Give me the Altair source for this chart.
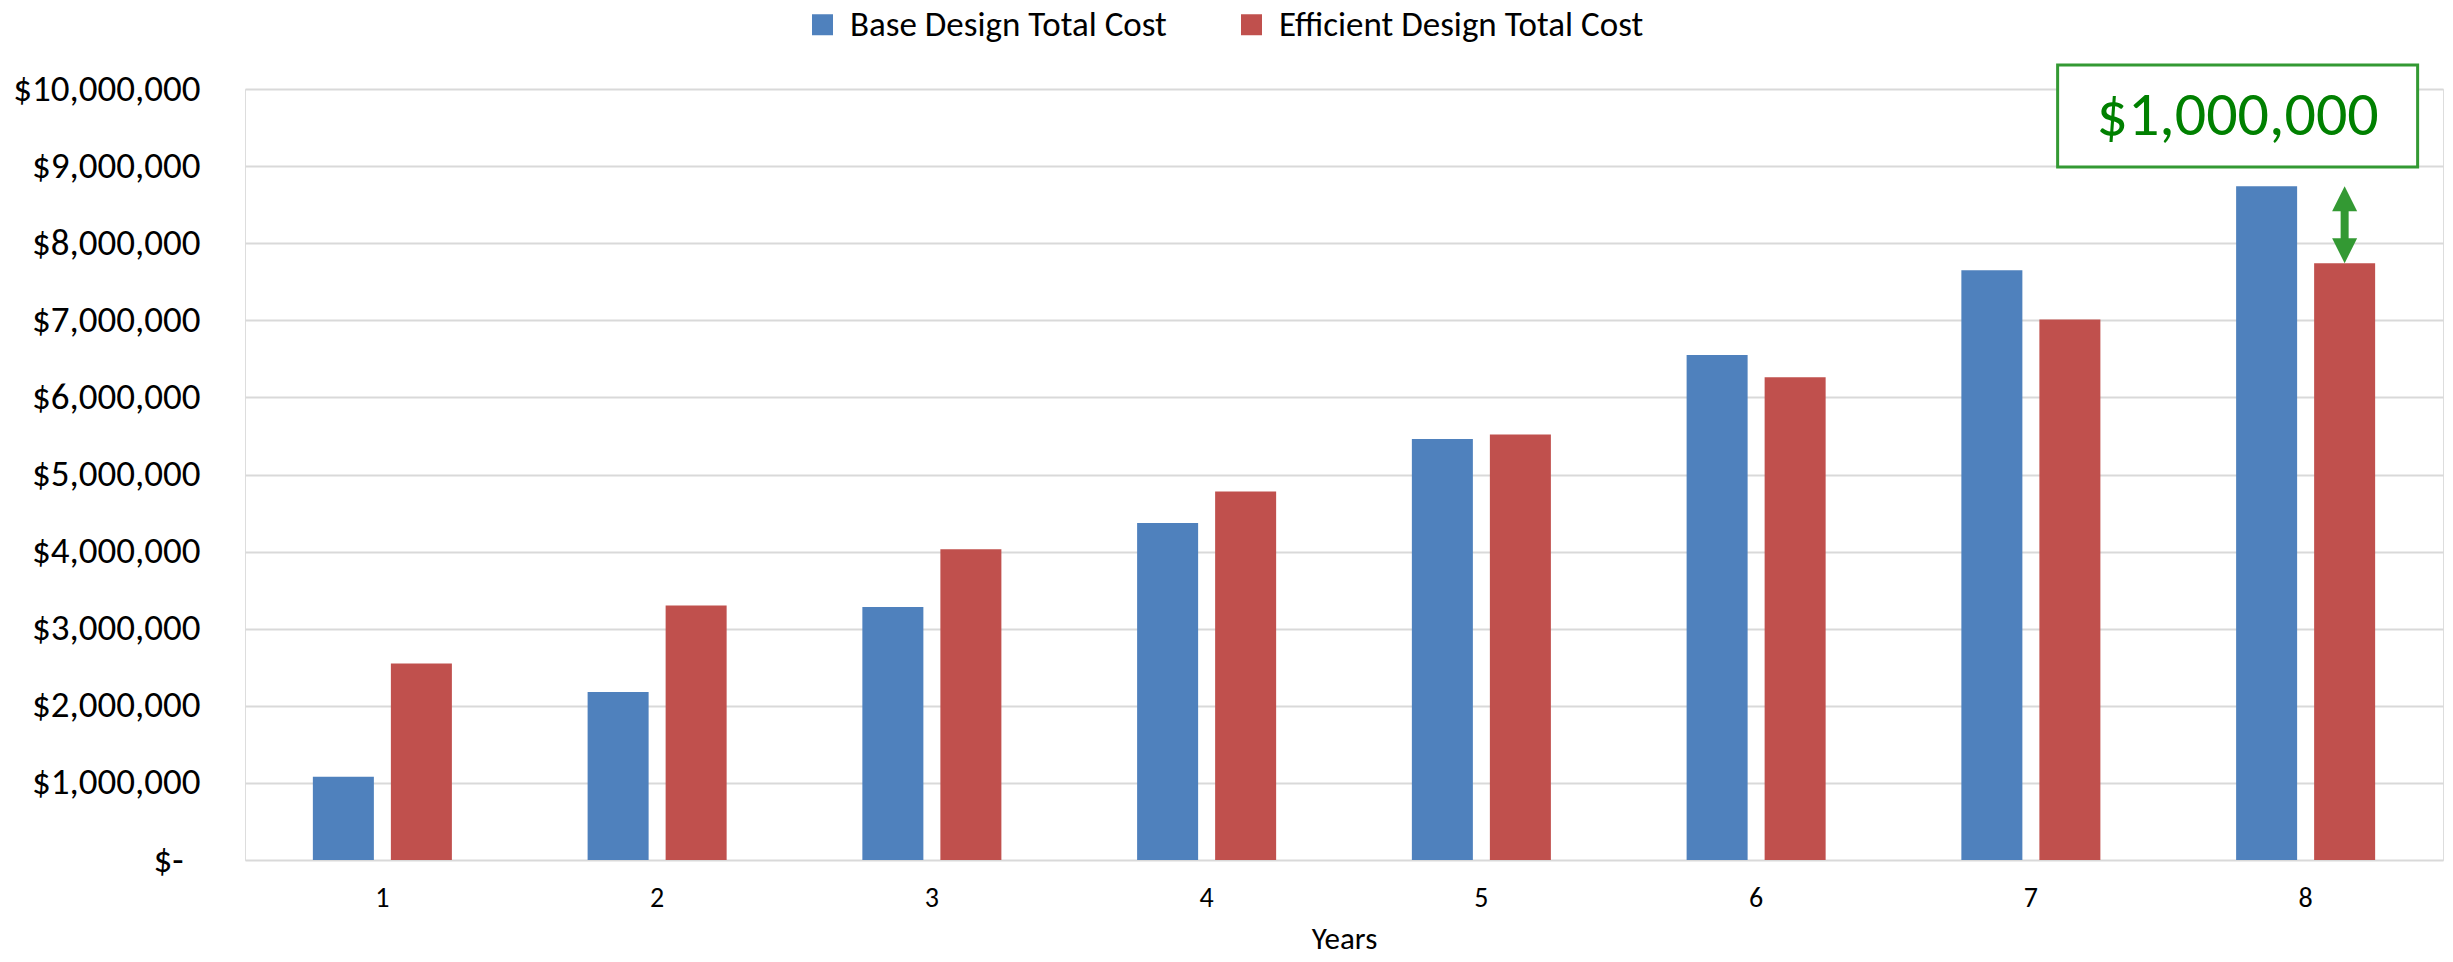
import altair as alt
import pandas as pd

years = ["1", "2", "3", "4", "5", "6", "7", "8"]
series = ["Base Design Total Cost", "Efficient Design Total Cost"]
base_cost = [1080000, 2180000, 3280000, 4370000, 5460000, 6550000, 7650000, 8740000]
efficient_cost = [2550000, 3300000, 4030000, 4780000, 5520000, 6260000, 7010000, 7740000]
colors = ["#4F81BD", "#C0504D"]
y_ticks = [0, 1000000, 2000000, 3000000, 4000000, 5000000, 6000000, 7000000, 8000000, 9000000, 10000000]

annotation_text = "$1,000,000"
annotation_year = "8"
annotation_value = 9650000

FONT = "Calibri, Carlito, Lato, sans-serif"

rows = []
for i, yr in enumerate(years):
    rows.append({"Year": yr, "Series": series[0], "Cost": base_cost[i]})
    rows.append({"Year": yr, "Series": series[1], "Cost": efficient_cost[i]})
df = pd.DataFrame(rows)

arrow_df = pd.DataFrame([{
    "Year": annotation_year,
    "Series": series[1],
    "top": base_cost[-1],
    "bottom": efficient_cost[-1],
}])
label_df = pd.DataFrame([{"Year": annotation_year, "v": annotation_value, "label": annotation_text}])

x_enc = alt.X("Year:N", sort=years,
              scale=alt.Scale(paddingInner=0.494, paddingOuter=0.247),
              axis=alt.Axis(title="Years", labelAngle=0, labelFontSize=28, labelColor="black",
                            labelPadding=24, ticks=False, domain=False, titleFontSize=31,
                            titleFontWeight="normal", titleColor="black", titlePadding=12,
                            labelFont=FONT, titleFont=FONT))
xoff_enc = alt.XOffset("Series:N", sort=series,
                       scale=alt.Scale(domain=series, paddingInner=0.218, paddingOuter=0))
y_scale = alt.Scale(domain=[0, 10000000], nice=False)

bars = alt.Chart(df).mark_bar().encode(
    x=x_enc,
    xOffset=xoff_enc,
    y=alt.Y("Cost:Q", scale=y_scale,
            axis=alt.Axis(title=None, values=y_ticks,
                          labelExpr="datum.value == 0 ? '$-' : '$' + format(datum.value, ',')",
                          labelFontSize=37, labelColor="black",
                          labelPadding={"condition": {"test": "datum.value == 0", "value": 62}, "value": 45},
                          labelLimit=400,
                          ticks=False, domain=False, gridColor="#d9d9d9", gridWidth=2,
                          labelFont=FONT)),
    color=alt.Color("Series:N", sort=series,
                    scale=alt.Scale(domain=series, range=colors),
                    legend=alt.Legend(title=None, orient="none", direction="horizontal",
                                      legendX=560, legendY=-82, symbolType="square",
                                      symbolSize=441, symbolStrokeWidth=0,
                                      labelFontSize=35, labelColor="black", labelFont=FONT,
                                      labelOffset=10, columnPadding=67, labelLimit=700)),
)

shaft = alt.Chart(arrow_df).mark_rule(color="#339933", strokeWidth=8, yOffset=20, y2Offset=-20).encode(
    x=alt.X("Year:N", sort=years),
    xOffset=alt.XOffset("Series:N", sort=series),
    y=alt.Y("top:Q", scale=y_scale),
    y2="bottom:Q",
)
head_up = alt.Chart(arrow_df).mark_point(
    shape="M0,0L1,2L-1,2Z", size=625, filled=True, color="#339933", opacity=1, strokeWidth=0
).encode(
    x=alt.X("Year:N", sort=years),
    xOffset=alt.XOffset("Series:N", sort=series),
    y=alt.Y("top:Q", scale=y_scale),
)
head_down = alt.Chart(arrow_df).mark_point(
    shape="M0,0L1,-2L-1,-2Z", size=625, filled=True, color="#339933", opacity=1, strokeWidth=0
).encode(
    x=alt.X("Year:N", sort=years),
    xOffset=alt.XOffset("Series:N", sort=series),
    y=alt.Y("bottom:Q", scale=y_scale),
)

box = alt.Chart(label_df).mark_point(
    shape="M-1,-0.2833L1,-0.2833L1,0.2833L-1,0.2833Z", size=129600, filled=False,
    color="#339933", strokeWidth=3, opacity=1, xOffset=-68, fill="white", fillOpacity=1
).encode(
    x=alt.X("Year:N", sort=years),
    y=alt.Y("v:Q", scale=y_scale),
)
text = alt.Chart(label_df).mark_text(
    fontSize=62, color="#008000", font=FONT, dx=-68, baseline="middle", align="center"
).encode(
    x=alt.X("Year:N", sort=years),
    y=alt.Y("v:Q", scale=y_scale),
    text="label:N",
)

chart = alt.layer(bars, shaft, head_up, head_down, box, text).properties(
    width=2198, height=771,
    autosize=alt.AutoSizeParams(type="none"),
    padding={"left": 245, "top": 89, "right": 10, "bottom": 102},
).configure_view(stroke=None).configure(font=FONT, background="white")

chart.save("out.html", embed_options={"renderer": "svg", "actions": False})
